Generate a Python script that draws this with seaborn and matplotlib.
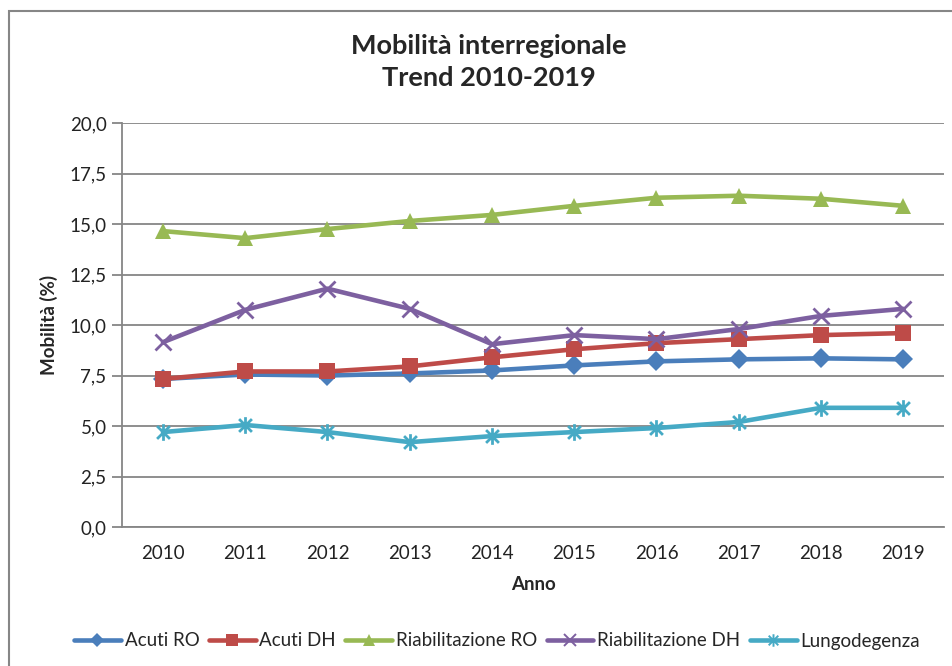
import numpy as np
import pandas as pd
import matplotlib
matplotlib.use("Agg")
import matplotlib.pyplot as plt
from matplotlib.path import Path
from matplotlib.patches import Rectangle
from matplotlib.lines import Line2D
from matplotlib.ticker import FixedLocator, FuncFormatter
import seaborn as sns

sns.set_style("white")
plt.rcParams['font.family'] = ['Lato', 'DejaVu Sans']

# data
anni = ['2010', '2011', '2012', '2013', '2014', '2015', '2016', '2017', '2018', '2019']
acuti_ro = [7.33, 7.55, 7.5, 7.6, 7.75, 8.0, 8.2, 8.3, 8.35, 8.3]
acuti_dh = [7.33, 7.7, 7.7, 7.95, 8.4, 8.8, 9.1, 9.3, 9.5, 9.6]
riab_ro = [14.65, 14.3, 14.75, 15.15, 15.45, 15.9, 16.3, 16.4, 16.25, 15.9]
riab_dh = [9.15, 10.75, 11.8, 10.8, 9.05, 9.5, 9.3, 9.8, 10.45, 10.8]
lungodeg = [4.7, 5.05, 4.7, 4.2, 4.5, 4.7, 4.9, 5.2, 5.9, 5.9]

nomi = ['Acuti RO', 'Acuti DH', 'Riabilitazione RO', 'Riabilitazione DH', 'Lungodegenza']
colori = ['#4A7EBB', '#BE4B48', '#98B954', '#7D60A0', '#46AAC5']

# excel style asterisk: X plus vertical bar
star = Path([(-1, -1), (1, 1), (-1, 1), (1, -1), (0, -1.3), (0, 1.3)],
            [Path.MOVETO, Path.LINETO, Path.MOVETO, Path.LINETO, Path.MOVETO, Path.LINETO])

stili = [dict(marker='D', ms=10, mew=0),
         dict(marker='s', ms=12, mew=0),
         dict(marker='^', ms=12, mew=0),
         dict(marker='x', ms=11, mew=2),
         dict(marker=star, ms=12, mew=2)]

serie = [acuti_ro, acuti_dh, riab_ro, riab_dh, lungodeg]
x = np.arange(len(anni))

fig = plt.figure(figsize=(9.52, 6.66), dpi=100)
ax = fig.add_axes([0.128, 0.2087, 0.864, 0.6066])

handles = []
for nome, col, st, vals in zip(nomi, colori, stili, serie):
    sns.lineplot(x=x, y=vals, ax=ax, color=col, lw=3.3, marker=st['marker'],
                 markersize=st['ms'], markeredgewidth=st['mew'],
                 markeredgecolor=col, markerfacecolor=col, legend=False)
    handles.append(Line2D([], [], color=col, lw=3.3, marker=st['marker'],
                          markersize=st['ms'] * 0.75, markeredgewidth=st['mew'] * 0.7,
                          markeredgecolor=col, markerfacecolor=col, label=nome))

ax.set_xlim(-0.5, len(anni) - 0.5)
ax.set_ylim(0, 20)
ax.yaxis.set_major_locator(FixedLocator(np.arange(0, 20.01, 2.5)))
ax.yaxis.set_major_formatter(FuncFormatter(lambda v, p: ('%.1f' % v).replace('.', ',')))
ax.set_xticks(x)
ax.set_xticklabels(anni)
ax.set_xticks(np.arange(-0.5, len(anni)), minor=True)
ax.tick_params(axis='x', which='major', length=0, pad=13, labelsize=13.5, colors='#222222')
ax.tick_params(axis='x', which='minor', length=7, width=1.3, color='#868686', direction='out')
ax.tick_params(axis='y', length=7, width=1.3, color='#868686', labelsize=13.5, pad=4,
               labelcolor='#222222', left=True)

ax.grid(axis='y', color='#868686', lw=1.3)
ax.grid(axis='x', visible=False)
ax.set_axisbelow(True)
for s in ['top', 'right']:
    ax.spines[s].set_visible(False)
for s in ['left', 'bottom']:
    ax.spines[s].set_color('#868686')
    ax.spines[s].set_linewidth(1.3)

ax.set_xlabel('Anno', fontsize=13.5, fontweight='bold', labelpad=10)
ax.set_ylabel('Mobilità (%)', fontsize=13.5, fontweight='bold', labelpad=8)
fig.text(0.513, 1 - 62 / 666, 'Mobilità interregionale\nTrend 2010-2019', fontsize=19.5,
         fontweight='bold', ha='center', va='center', linespacing=1.35)

fig.legend(handles=handles, loc='center', bbox_to_anchor=(0.522, 1 - 641 / 666), ncol=5,
           frameon=False, fontsize=13.5, handlelength=2.5, handletextpad=0.2,
           columnspacing=0.5)

# chart area border
fig.patches.append(Rectangle((9 / 952, -0.1), 1.2, 1 - 11 / 666 + 0.1,
                             transform=fig.transFigure, fill=False,
                             edgecolor='#868686', lw=1.5))

fig.savefig('out.png', dpi=100)
